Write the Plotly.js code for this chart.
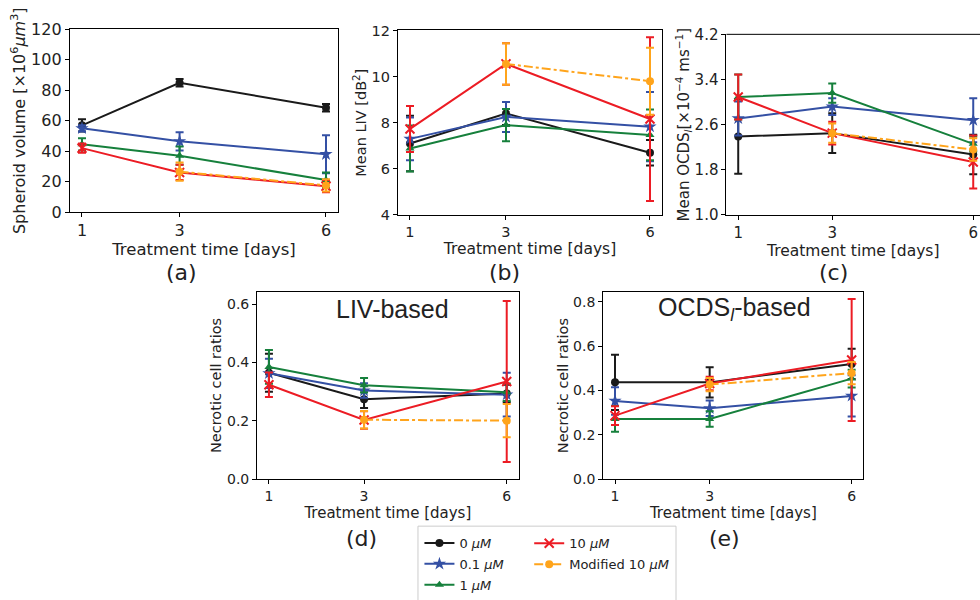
<!DOCTYPE html>
<html>
<head>
<meta charset="utf-8">
<script src="https://cdn.plot.ly/plotly-3.0.1.min.js"></script>
<style>html,body{margin:0;padding:0;background:#fff;}#chart{width:980px;height:600px;}</style>
</head>
<body>
<div id="chart"></div>
<script>
// ---- data ----
const days = [1, 3, 6];
const daysMod = [3, 6];
const seriesNames = ['0 <i>μM</i>', '0.1 <i>μM</i>', '1 <i>μM</i>', '10 <i>μM</i>', 'Modified 10 <i>μM</i>'];
const tickDays = ['1', '3', '6'];

// (a) spheroid volume
const vol_0 = [57, 85, 68.5];      const vol_0_err = [4, 2.5, 2.5];
const vol_01 = [55, 46.5, 38];     const vol_01_err = [2, 6, 12.5];
const vol_1 = [44.5, 37, 21];      const vol_1_err = [4, 6, 5];
const vol_10 = [42, 26, 17];       const vol_10_err = [3, 5, 4];
const vol_mod = [26.5, 17.5];      const vol_mod_err = [6, 4];

// (b) mean LIV
const liv_0 = [7.1, 8.4, 6.7];     const liv_0_err = [1.2, 0.5, 0.55];
const liv_01 = [7.3, 8.25, 7.83];  const liv_01_err = [0.93, 0.65, 1.5];
const liv_1 = [6.88, 7.9, 7.47];   const liv_1_err = [1.0, 0.7, 1.1];
const liv_10 = [7.73, 10.55, 8.16];const liv_10_err = [1.0, 0.9, 3.55];
const liv_mod = [10.55, 9.8];      const liv_mod_err = [0.9, 1.45];

// (c) mean OCDS_l
const ocds_0 = [2.39, 2.45, 2.07]; const ocds_0_err = [0.66, 0.35, 0.35];
const ocds_01 = [2.71, 2.92, 2.68];const ocds_01_err = [0.3, 0.15, 0.39];
const ocds_1 = [3.09, 3.16, 2.26]; const ocds_1_err = [0.4, 0.17, 0.13];
const ocds_10 = [3.09, 2.45, 1.94];const ocds_10_err = [0.4, 0.2, 0.47];
const ocds_mod = [2.45, 2.16];     const ocds_mod_err = [0.17, 0.2];

// (d) necrotic ratio, LIV-based
const nl_0 = [0.365, 0.274, 0.294];  const nl_0_err = [0.065, 0.03, 0.03];
const nl_01 = [0.363, 0.304, 0.29];  const nl_01_err = [0.05, 0.025, 0.075];
const nl_1 = [0.385, 0.322, 0.298];  const nl_1_err = [0.058, 0.025, 0.03];
const nl_10 = [0.324, 0.203, 0.335]; const nl_10_err = [0.042, 0.03, 0.276];
const nl_mod = [0.204, 0.201];       const nl_mod_err = [0.03, 0.057];

// (e) necrotic ratio, OCDS_l-based
const no_0 = [0.437, 0.437, 0.52];   const no_0_err = [0.125, 0.068, 0.068];
const no_01 = [0.353, 0.32, 0.376];  const no_01_err = [0.062, 0.035, 0.093];
const no_1 = [0.272, 0.272, 0.454];  const no_1_err = [0.058, 0.035, 0.04];
const no_10 = [0.287, 0.432, 0.538]; const no_10_err = [0.042, 0.03, 0.275];
const no_mod = [0.427, 0.479];       const no_mod_err = [0.03, 0.05];

// ---- styles ----
const colors = ['#1a1a1a', '#3450a4', '#16803c', '#ec1c24', '#ffa41b'];
const symbols = ['circle', 'star', 'triangle-up', 'x-thin', 'circle'];
const dashes = ['solid', 'solid', 'solid', 'solid', 'dashdot'];
const legendOf = ['legend', 'legend', 'legend', 'legend2', 'legend2'];

const panels = [
  {x: 'x', y: 'y', vals: [vol_0, vol_01, vol_1, vol_10, vol_mod], errs: [vol_0_err, vol_01_err, vol_1_err, vol_10_err, vol_mod_err]},
  {x: 'x2', y: 'y2', vals: [liv_0, liv_01, liv_1, liv_10, liv_mod], errs: [liv_0_err, liv_01_err, liv_1_err, liv_10_err, liv_mod_err]},
  {x: 'x3', y: 'y3', vals: [ocds_0, ocds_01, ocds_1, ocds_10, ocds_mod], errs: [ocds_0_err, ocds_01_err, ocds_1_err, ocds_10_err, ocds_mod_err]},
  {x: 'x4', y: 'y4', vals: [nl_0, nl_01, nl_1, nl_10, nl_mod], errs: [nl_0_err, nl_01_err, nl_1_err, nl_10_err, nl_mod_err]},
  {x: 'x5', y: 'y5', vals: [no_0, no_01, no_1, no_10, no_mod], errs: [no_0_err, no_01_err, no_1_err, no_10_err, no_mod_err]}
];

const traces = [];
panels.forEach((p, pi) => {
  for (let s = 0; s < 5; s++) {
    const isX = symbols[s] === 'x-thin';
    traces.push({
      type: 'scatter', mode: 'lines+markers',
      x: s === 4 ? daysMod : days,
      y: p.vals[s],
      xaxis: p.x, yaxis: p.y,
      name: seriesNames[s],
      legend: legendOf[s],
      legendgroup: 'g' + s,
      legendrank: s,
      showlegend: pi === 0,
      line: {color: colors[s], width: 2, dash: dashes[s]},
      marker: {symbol: symbols[s], size: isX ? 9 : (s === 1 ? 10 : 8), color: colors[s],
               line: {color: colors[s], width: isX ? 2 : 0}},
      error_y: {type: 'data', array: p.errs[s], visible: true, color: colors[s], thickness: 2, width: 4}
    });
  }
});

const font = 'DejaVu Sans, sans-serif';
function xax(domain, range, size, anchor, titleSize, mirror) {
  return {domain: domain, range: range, anchor: anchor, tickvals: days, ticktext: tickDays,
    showline: true, linecolor: '#000', linewidth: 1, mirror: mirror === undefined ? true : mirror,
    ticks: 'outside', ticklen: 4, tickcolor: '#000', showgrid: false, zeroline: false,
    tickfont: {family: font, size: size, color: '#222'},
    title: {text: 'Treatment time [days]', font: {family: font, size: titleSize, color: '#222'}, standoff: 2}};
}
function yax(domain, range, dtick, fmt, size, anchor, title, titleSize) {
  return {domain: domain, range: range, anchor: anchor, dtick: dtick, tick0: range[0], tickformat: fmt,
    showline: true, linecolor: '#000', linewidth: 1, mirror: true,
    ticks: 'outside', ticklen: 4, tickcolor: '#000', showgrid: false, zeroline: false,
    tickfont: {family: font, size: size, color: '#222'},
    title: {text: title, font: {family: font, size: titleSize, color: '#222'}, standoff: 1}};
}
function label(text, x, y, size, fam) {
  return {text: text, xref: 'paper', yref: 'paper', x: x, y: y, xanchor: 'center', yanchor: 'middle',
          showarrow: false, font: {family: fam || font, size: size, color: '#222'}};
}

const layout = {
  width: 980, height: 600,
  margin: {l: 0, r: 0, t: 0, b: 0},
  paper_bgcolor: '#fff', plot_bgcolor: '#fff',
  font: {family: font, color: '#222'},
  xaxis: xax([0.0712, 0.3451], [0.75, 6.25], 16, 'y', 16.5),
  yaxis: yax([0.64, 0.95], [0, 120], 20, 'd', 16, 'x', 'Spheroid volume [×10<sup>6</sup><i>μm</i><sup>3</sup>]', 16),
  xaxis2: xax([0.4061, 0.6755], [0.75, 6.25], 14.5, 'y2', 15.5),
  yaxis2: yax([0.635, 0.9483], [4, 12], 2, 'd', 14.5, 'x2', 'Mean LIV [dB<sup>2</sup>]', 14.5),
  xaxis3: xax([0.7413, 1.0], [0.75, 6.144], 15, 'y3', 15.5, false),
  yaxis3: yax([0.635, 0.9417], [1.0, 4.2], 0.8, '.1f', 15, 'x3', 'Mean OCDS<sub><i>l</i></sub>[×10<sup>−4</sup> ms<sup>−1</sup>]', 15),
  xaxis4: xax([0.2623, 0.5292], [0.75, 6.25], 14, 'y4', 15),
  yaxis4: yax([0.1862, 0.505], [0, 0.643], 0.2, '.1f', 14, 'x4', 'Necrotic cell ratios', 14.5),
  xaxis5: xax([0.6155, 0.8811], [0.75, 6.25], 14, 'y5', 15),
  yaxis5: yax([0.1862, 0.5045], [0, 0.845], 0.2, '.1f', 14, 'x5', 'Necrotic cell ratios', 14.5),
  legend: {x: 0.428, y: 0.103, xanchor: 'left', yanchor: 'top', bgcolor: 'rgba(0,0,0,0)',
           font: {family: font, size: 13, color: '#222'}, traceorder: 'grouped', tracegroupgap: 1},
  legend2: {x: 0.54, y: 0.103, xanchor: 'left', yanchor: 'top', bgcolor: 'rgba(0,0,0,0)',
           font: {family: font, size: 13, color: '#222'}, traceorder: 'grouped', tracegroupgap: 1},
  shapes: [
    {type: 'line', xref: 'paper', yref: 'paper', x0: 0.7413, x1: 1.0, y0: 0.9417, y1: 0.9417, line: {color: '#000', width: 1}},
    {type: 'rect', xref: 'paper', yref: 'paper', x0: 0.4265, x1: 0.6898, y0: -0.02, y1: 0.1067, line: {color: '#cccccc', width: 1}, fillcolor: 'rgba(255,255,255,0.8)', layer: 'below'}
  ],
  annotations: [
    label('LIV-based', 0.401, 0.475, 25, 'Liberation Sans, Arial, sans-serif'),
    label('OCDS<sub><i>l</i></sub>-based', 0.749, 0.475, 25, 'Liberation Sans, Arial, sans-serif'),
    label('(a)', 0.1847, 0.538, 22),
    label('(b)', 0.5153, 0.538, 22),
    label('(c)', 0.85, 0.538, 22),
    label('(d)', 0.3684, 0.085, 22),
    label('(e)', 0.7388, 0.085, 22)
  ]
};

Plotly.newPlot('chart', traces, layout, {displayModeBar: false, staticPlot: true});
</script>
</body>
</html>
